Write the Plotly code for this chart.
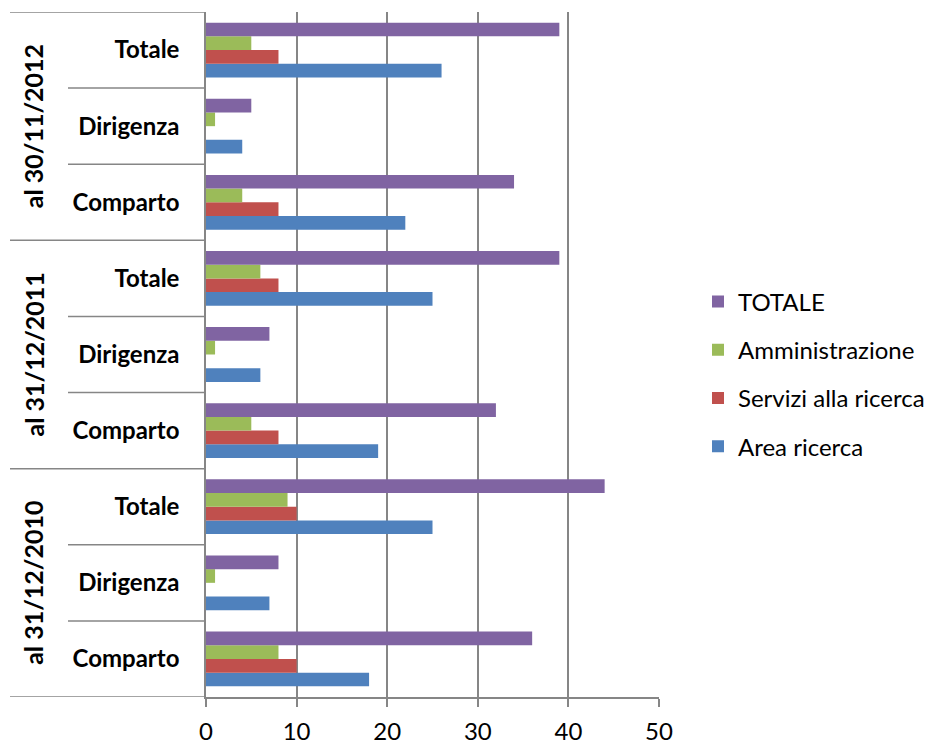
import plotly.graph_objects as go

groups = ["al 31/12/2010", "al 31/12/2011", "al 30/11/2012"]
subcats = ["Comparto", "Dirigenza", "Totale"]

# values ordered: 2010 (Comparto, Dirigenza, Totale), 2011 (...), 2012 (...)
area_ricerca = [18, 7, 25, 19, 6, 25, 22, 4, 26]
servizi_ricerca = [10, 0, 10, 8, 0, 8, 8, 0, 8]
amministrazione = [8, 1, 9, 5, 1, 6, 4, 1, 5]
totale = [36, 8, 44, 32, 7, 39, 34, 5, 39]

series_names = ["Area ricerca", "Servizi alla ricerca", "Amministrazione", "TOTALE"]
series_values = [area_ricerca, servizi_ricerca, amministrazione, totale]
colors = ["#4F81BD", "#C0504D", "#9BBB59", "#8064A2"]
legend_ranks = [4, 3, 2, 1]

keys = [f"{g}|{s}" for g in groups for s in subcats]
labels = [s for g in groups for s in subcats]

FONT = "Lato"
fig = go.Figure()
for name, vals, col, rk in zip(series_names, series_values, colors, legend_ranks):
    fig.add_trace(go.Bar(
        y=keys, x=vals, orientation="h", name=name,
        marker=dict(color=col, line=dict(width=0)),
        legendgroup=name, legendrank=rk,
    ))

W, H = 931, 746
L, R, T, B = 206, 272, 12, 49
pw = W - L - R
ph = H - T - B

def px(xpix):
    return (xpix - L) / pw

shapes = []
line_col = "#868686"
for yb in [-0.5, 2.5, 5.5, 8.5]:
    shapes.append(dict(type="line", xref="paper", yref="y", x0=px(10), x1=0,
                       y0=yb, y1=yb, line=dict(color=line_col, width=1.5)))
for yb in [0.5, 1.5, 3.5, 4.5, 6.5, 7.5]:
    shapes.append(dict(type="line", xref="paper", yref="y", x0=px(68), x1=0,
                       y0=yb, y1=yb, line=dict(color=line_col, width=1.5)))

annotations = []
for i, g in enumerate(groups):
    annotations.append(dict(text=f"<b>{g}</b>", xref="paper", yref="y",
                            x=px(33), y=3 * i + 1, textangle=-90, showarrow=False,
                            font=dict(family=FONT, size=25, color="black"),
                            xanchor="center", yanchor="middle"))

fig.update_layout(
    width=W, height=H,
    margin=dict(l=L, r=R, t=T, b=B, pad=0, autoexpand=False),
    paper_bgcolor="white", plot_bgcolor="white",
    barmode="group", bargap=0.28, bargroupgap=0,
    font=dict(family=FONT, size=24, color="black"),
    showlegend=True,
    legend=dict(x=px(698), y=(H - B - 374) / ph, xanchor="left", yanchor="middle",
                traceorder="grouped", tracegroupgap=14,
                font=dict(family=FONT, size=24, color="black"),
                itemwidth=30),
    shapes=shapes,
    annotations=annotations,
    xaxis=dict(range=[0, 50], dtick=10, tick0=0, showgrid=True, gridcolor=line_col,
               gridwidth=1.5, showline=True, linecolor=line_col, linewidth=1.5,
               ticks="outside", ticklen=8, tickcolor=line_col, tickwidth=1.5,
               ticklabelstandoff=4,
               zeroline=False, tickfont=dict(family=FONT, size=24, color="black"),
               automargin=False, fixedrange=True),
    yaxis=dict(type="category", categoryorder="array", categoryarray=keys,
               tickmode="array", tickvals=keys, ticktext=[f"<b>{s}</b>" for s in labels],
               showline=True, linecolor=line_col, linewidth=1.5, ticks="",
               ticklabelstandoff=20, showgrid=False, zeroline=False,
               range=[-0.5, 8.5], automargin=False,
               tickfont=dict(family=FONT, size=24, color="black")),
)

fig.write_html("out.html")
